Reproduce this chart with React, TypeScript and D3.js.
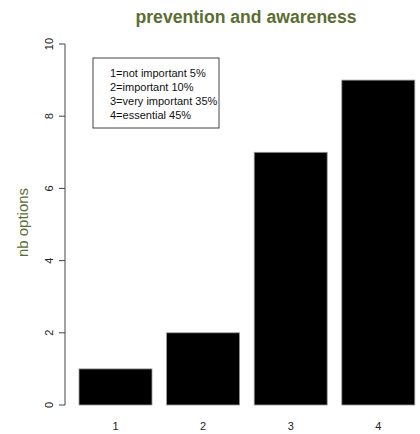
import React from "react";
import * as d3 from "d3";

const categories = ["1", "2", "3", "4"];
const values = [1, 2, 7, 9];
const yTicks = [0, 2, 4, 6, 8, 10];
const legendLines = [
  "1=not important 5%",
  "2=important 10%",
  "3=very important 35%",
  "4=essential 45%",
];
const title = "prevention and awareness";
const yLabel = "nb options";

export default function App() {
  const W = 420;
  const H = 434;
  const x = d3.scaleLinear().domain([0, 4.8]).range([64.4, 414.8]);
  const y = d3.scaleLinear().domain([0, 10]).range([405, 44]);
  const olive = "#5a6e32";
  const font = "Liberation Sans, Arial, sans-serif";
  return (
    <svg
      width={W}
      height={H}
      style={{ position: "absolute", left: 0, top: 0, background: "#fff" }}
    >
      <text
        x={246}
        y={23}
        textAnchor="middle"
        fontFamily={font}
        fontWeight="bold"
        fontSize={17.6}
        fill={olive}
      >
        {title}
      </text>
      <text
        transform={`translate(28.4,${222.5}) rotate(-90)`}
        textAnchor="middle"
        fontFamily={font}
        fontSize={15}
        fill={olive}
      >
        {yLabel}
      </text>
      {/* y axis */}
      <line x1={65} x2={65} y1={y(0)} y2={y(10)} stroke="#444" strokeWidth={1} />
      {yTicks.map((t) => (
        <g key={t}>
          <line x1={59} x2={65} y1={y(t)} y2={y(t)} stroke="#444" strokeWidth={1} />
          <text
            transform={`translate(49,${y(t)}) rotate(-90)`}
            textAnchor="middle"
            dominantBaseline="central"
            fontFamily={font}
            fontSize={11}
            fill="#222"
          >
            {t}
          </text>
        </g>
      ))}
      {/* bars */}
      {values.map((v, i) => {
        const left = 0.2 + i * 1.2;
        return (
          <rect
            key={i}
            x={x(left)}
            y={y(v)}
            width={x(left + 1) - x(left)}
            height={y(0) - y(v)}
            fill="#000"
            stroke="#999"
            strokeWidth={0.8}
          />
        );
      })}
      {categories.map((c, i) => (
        <text
          key={c}
          x={x(0.7 + i * 1.2)}
          y={426}
          textAnchor="middle"
          dominantBaseline="central"
          fontFamily={font}
          fontSize={11}
          fill="#222"
        >
          {c}
        </text>
      ))}
      {/* legend */}
      <rect x={93} y={58} width={126} height={70} fill="#fff" stroke="#444" strokeWidth={1} />
      {legendLines.map((l, i) => (
        <text
          key={i}
          x={110}
          y={73 + i * 14}
          dominantBaseline="central"
          fontFamily={font}
          fontSize={11}
          fill="#111"
        >
          {l}
        </text>
      ))}
    </svg>
  );
}
